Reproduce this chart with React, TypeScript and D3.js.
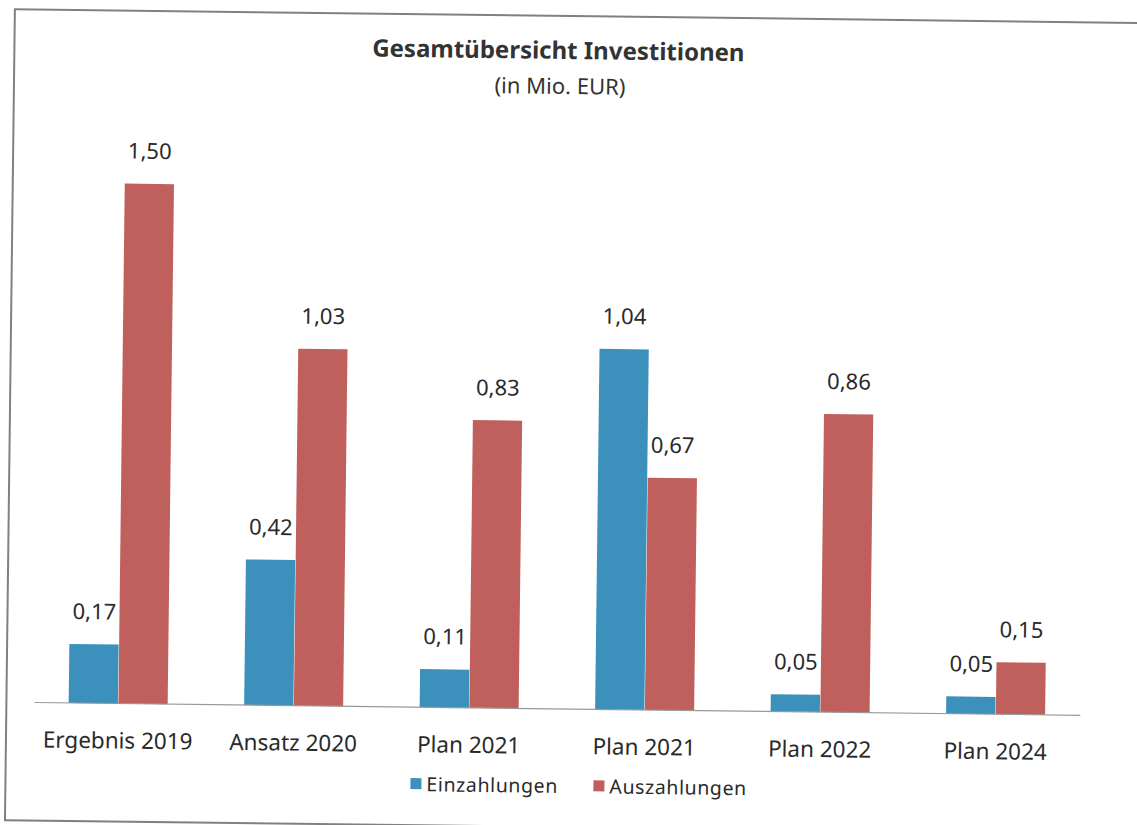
import React from "react";
import * as d3 from "d3";

const categories = ["Ergebnis 2019", "Ansatz 2020", "Plan 2021", "Plan 2021", "Plan 2022", "Plan 2024"];
const einzahlungen = [0.17, 0.42, 0.11, 1.04, 0.05, 0.05];
const auszahlungen = [1.50, 1.03, 0.83, 0.67, 0.86, 0.15];
const seriesNames = ["Einzahlungen", "Auszahlungen"];
const seriesColors = ["#3b91bc", "#c0605c"];
const title = "Gesamtübersicht Investitionen";
const subtitle = "(in Mio. EUR)";

const W = 1137;
const H = 825;
const FONT = "'Noto Sans', 'Open Sans', sans-serif";
const fmt = (v: number) => v.toFixed(2).replace(".", ",");

export default function App() {
  const x0 = d3.scaleBand<number>().domain(d3.range(categories.length)).range([34, 1087]).paddingInner(0).paddingOuter(0);
  const groupW = 100;
  const x1 = d3.scaleBand<number>().domain([0, 1]).range([0, groupW]).padding(0.01);
  const y = d3.scaleLinear().domain([0, 1.5]).range([709, 189]);
  const series = [einzahlungen, auszahlungen];

  return (
    <svg width={W} height={H} style={{ position: "absolute", left: 0, top: 0, background: "#fff" }}>
      <rect width={W} height={H} fill="#fff" />
      <g transform="rotate(0.7, 568, 412)">
        <rect x={10} y={16} width={1170} height={811} fill="none" stroke="#808080" strokeWidth={2} />
        <text x={554} y={59} textAnchor="middle" fontFamily={FONT} fontWeight="bold" fontSize={24} fill="#333">{title}</text>
        <text x={556} y={94} textAnchor="middle" fontFamily={FONT} fontSize={22} fill="#333">{subtitle}</text>
        {series.map((vals, si) =>
          vals.map((v, i) => {
            const cx = (x0(i) as number) + x0.bandwidth() / 2;
            const bx = cx - groupW / 2 + (x1(si) as number);
            return (
              <g key={`${si}-${i}`}>
                <rect x={bx} y={y(v)} width={x1.bandwidth()} height={y(0) - y(v)} fill={seriesColors[si]} />
                <text x={bx + x1.bandwidth() / 2} y={y(v) - 25} textAnchor="middle" fontFamily={FONT} fontSize={22} fill="#2a2a2a">{fmt(v)}</text>
              </g>
            );
          })
        )}
        <line x1={38} x2={1084} y1={y(0)} y2={y(0)} stroke="#999" strokeWidth={1.2} />
        {categories.map((c, i) => (
          <text key={i} x={(x0(i) as number) + x0.bandwidth() / 2} y={754} textAnchor="middle" fontFamily={FONT} fontSize={22.5} fill="#2a2a2a">{c}</text>
        ))}
        {seriesNames.map((n, si) => {
          const lx = si === 0 ? 415 : 598;
          return (
            <g key={n}>
              <rect x={lx} y={780} width={11} height={11} fill={seriesColors[si]} />
              <text x={lx + 16} y={793} fontFamily={FONT} fontSize={19.5} fill="#2a2a2a" letterSpacing={0.6}>{n}</text>
            </g>
          );
        })}
      </g>
    </svg>
  );
}
